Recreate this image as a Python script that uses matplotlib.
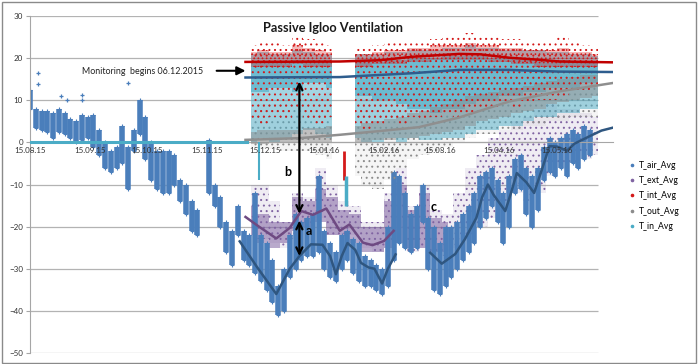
import numpy as np
import matplotlib.pyplot as plt
from matplotlib.lines import Line2D
from matplotlib.patches import Rectangle

plt.rcParams['font.family'] = ['Lato', 'DejaVu Sans']
plt.rcParams['hatch.linewidth'] = 0.7
nan = np.nan

# ---- T_air_Avg : range of the point cloud every 3 days (15.08.15 .. 01.06.16)
air_dates = np.arange('2015-08-15', '2016-06-02', 3, dtype='datetime64[D]')
air_lo = [8, 3.5, 3, 2.5, 1, 2.5, 2, 1, 0, 0.5,
          1, -1, -3, -6, -7, -6, -5, -11, -2, 2,
          -4, -9, -11, -12, -12, -10, -14, -17, -21, -22,
          nan, -12, -15, -20, -26, -29, -22, -28, -29, -31,
          -33, -35, -38, -41, -40, -32, -30, -28, -27, -27,
          -26, -30, -32, -33, -30, -28, -31, -33, -34, -34,
          -35, -36, -34, -28, -24, -25, -26, -25, -19, -30,
          -35, -36, -34, -32, -30, -28, -26, -24, -20, -18,
          -15, -19, -24, -20, -12, -11, -17, -20, -16, -9,
          -7, -8, -6, -8, -5, -6, -4, -3]
air_hi = [12.5, 8, 7.5, 7.5, 7, 8, 7, 5.5, 5, 6.5,
          6, 6.5, 3, 0, -2, -1, 4, -1, 3, 10,
          6, 0, -2, -2, -2, -3, -9, -10, -14, -16,
          nan, 0.5, -10, -13, -19, -21, -15, -21, -22, -12,
          -22, -24, -28, -34, -30, -22, -17, -19, -18, -17,
          -8, -21, -24, -26, -22, -21, -23, -24, -27, -28,
          -29, -30, -20, -7, -8, -12, -17, -15, -10, -18,
          -20, -24, -20, -20, -19, -17, -15, -12, -8, -7,
          -6, -9, -12, -8, -4, -3, -6, -8, -6, -1,
          1, 0, 1, 2, 3, 2, 4, 3]
air_out_dates = ['2015-08-19', '2015-08-19', '2015-08-31', '2015-09-03',
                 '2015-09-11', '2015-09-11', '2015-10-05']
air_out_vals = [16.4, 13.9, 10.9, 10.0, 11.3, 10.0, 14.2]

# ---- monitored series, every 6 days (08.12.15 .. 05.06.16)
mon_dates = np.arange('2015-12-08', '2016-06-06', 6, dtype='datetime64[D]')
int_lo = [5, 4, 6, 5, 8, 5, 4, 6, nan, 4, 3, 4, 5, 4, 6, 5, 6, 7, 6, 7,
          8, 8, 9, 8, 9, 10, 10, 11, 12, 12, 13]
int_hi = [23, 24, 23.5, 23, 25, 24.5, 24, 23, nan, 22.5, 22.5, 23, 23.5, 23.5, 24, 24,
          24.5, 25, 25, 26, 25, 25, 24.5, 24.5, 24, 24, 24, 25, 23.5, 23, 22.5]
int_core_lo = [18, 18, 18, 18, 18.5, 18, 18, 18, nan, 18, 18, 18.5, 18.5, 18.5, 19, 19,
               19.5, 19.5, 19.5, 19.5, 19.5, 19, 19, 18.5, 18.5, 18, 18, 18, 18, 18, 18]
int_core_hi = [21.5, 22, 21.5, 21.5, 23, 22.5, 22, 21.5, nan, 21, 21, 21.5, 22, 22, 22.5,
               22.5, 23, 23, 23, 23.5, 23, 23, 22.5, 22.5, 22, 22, 22, 22.5, 21.5, 21.5, 21]

in_lo = [0, 1, 0, 1, 2, 3, 2, 1, nan, 1, 0, 0, 1, 0, 1, 0.5, 0.5, 1, 1, 2,
         3, 3, 4, 4, 5, 6, 6, 7, 7, 8, 8]
in_hi = [21, 21.5, 21, 21, 22, 21.5, 21, 21, nan, 21, 21, 21, 21.5, 21.5, 22, 22,
         22, 22.5, 22.5, 23, 22.5, 22.5, 22, 22, 22, 22, 21.5, 21.5, 21, 21, 20.5]
in_core_lo = [12, 12, 13, 13, 12, 14, 14, 13, nan, 11, 11, 10, 10, 9, 8, 8, 7, 8, 8, 9,
              10, 10, 11, 11, 12, 12, 13, 13, 13, 14, 14]
in_core_hi = [19, 19, 19, 19, 19.5, 19.5, 19, 19, nan, 19, 19, 19, 19.5, 19.5, 20, 20,
              20, 20.5, 20.5, 20.5, 20.5, 20, 20, 20, 20, 19.5, 19.5, 19.5, 19, 19, 19]

out_lo = [-1, -1.5, -1.5, -2, -2, -2, -3, -4, nan, -8, -10, -11, -9, -6, -4, -3,
          -2, -1, 0, 1, 2, 2, 3, 3, 4, 4, 5, 5, 6, 6, 6]
out_hi = [8, 9, 9, 10, 10, 10, 11, 12, nan, 12, 13, 14, 14, 15, 15, 15, 16, 16, 16,
          16.5, 17, 17, 17, 17, 17.5, 17.5, 18, 18, 18, 18, 18]
out_core_lo = [-0.5, -0.5, 0, 0, 0, 0, 0, 0, nan, 0, 0, 0.5, 0.5, 1, 1, 1.5, 2, 2.5,
               3, 4, 5, 5.5, 6, 7, 7.5, 8, 9, 9.5, 10, 10.5, 11]
out_core_hi = [2.5, 3, 3, 3, 3, 3.5, 3.5, 4, nan, 4, 4.5, 5, 5.5, 6, 7, 7.5, 8.5, 9,
               10, 11, 11.5, 12, 12.5, 13, 13.5, 14, 14.5, 15, 15.5, 16, 16]

ext_lo = [-20, -23, -24, -25, -23, -20, -18, -22, -22, -22, -25, -26, -25, -20, -26,
          -25, -26, -27, -25, -22, -20, -18, -15, -12, -14, -12, -8, -6, -5, -4, -3]
ext_hi = [-10, -10, -14, -19, -12, -13, -6, -10, -14, -15, -19, -19, -12, -6, -15,
          -10, -16, -17, -12, -6, -3, 1, 3, 5, 6, 8, 9, 8, 8, 7, 6]
ext_core_lo = [-22, -24, -25, -24, -21, -20, -19, -22, -22, -24, -26, -26, -25, -24,
               -25, -25, -26, -26, nan, nan, nan, nan, nan, nan, nan, nan, nan, nan,
               nan, nan, nan]
ext_core_hi = [-15, -17, -19, -19, -13, -14, -11, -13, -16, -17, -20, -20, -14, -10,
               -16, -12, -18, -19, nan, nan, nan, nan, nan, nan, nan, nan, nan, nan,
               nan, nan, nan]

# readings in the data gap of late January
gap_dates = ['2016-01-25', '2016-01-26']
gap_int = [(-9, -2), None]
gap_in = [None, (-15, -8)]
spike_in_date = '2015-12-12'
spike_in = (-9, 0)
in_zero_dates = ['2015-08-15', '2015-12-06']
in_zero_vals = [0, 0]

# ---- moving-average trend lines
int_tr_dates = ['2015-12-05', '2016-01-23', '2016-02-13', '2016-02-29', '2016-03-25',
                '2016-04-05', '2016-04-20', '2016-05-06', '2016-05-16', '2016-06-13']
int_tr = [19.1, 19.2, 19.5, 20.3, 21.0, 20.9, 20.1, 19.6, 19.2, 19.0]
in_tr_dates = ['2015-12-05', '2016-01-23', '2016-02-29', '2016-03-25', '2016-04-20',
               '2016-05-16', '2016-06-13']
in_tr = [15.4, 15.5, 16.4, 17.2, 17.2, 16.8, 16.7]
out_tr_dates = ['2015-12-05', '2016-01-02', '2016-01-23', '2016-02-13', '2016-03-04',
                '2016-03-25', '2016-04-20', '2016-05-16', '2016-06-13']
out_tr = [0.6, 1.0, 1.8, 2.7, 3.6, 5.9, 9.7, 12.1, 14.1]
ext_tr_dates = ['2015-12-05', '2015-12-12', '2015-12-21', '2015-12-28', '2016-01-03',
                '2016-01-09', '2016-01-16', '2016-01-23', '2016-01-28', '2016-02-04',
                '2016-02-09', '2016-02-15', '2016-02-20']
ext_tr = [-17.7, -20.0, -22.8, -20.3, -16.3, -17.2, -15.7, -21.0, -19.5, -23.8,
          -24.4, -23.4, -21.0]
air_tr_dates = ['2015-12-02', '2015-12-11', '2015-12-21', '2015-12-28', '2016-01-02',
                '2016-01-08', '2016-01-14', '2016-01-18', '2016-01-21', '2016-01-24',
                '2016-01-27', '2016-01-31', '2016-02-03', '2016-02-07', '2016-02-10',
                '2016-02-14', '2016-02-17', '2016-02-21', '2016-02-22',
                '2016-03-10', '2016-03-16', '2016-03-23', '2016-03-28', '2016-04-03',
                '2016-04-06', '2016-04-09', '2016-04-12', '2016-04-18', '2016-04-21',
                '2016-04-24', '2016-04-29', '2016-05-03', '2016-05-07', '2016-05-11',
                '2016-05-15', '2016-05-20', '2016-05-24', '2016-06-01', '2016-06-07',
                '2016-06-13']
air_tr = [-23.5, -29.6, -36.0, -30.0, -27.0, -24.2, -24.3, -27.0, -31.3, -27.0,
          -23.9, -25.5, -28.6, -29.7, -30.0, -33.5, -30.0, -26.6, nan,
          -26.2, -28.8, -26.5, -23.0, -17.9, -13.0, -10.0, -12.5, -16.3, -12.0,
          -7.3, -9.5, -12.0, -6.5, -0.9, -1.0, -2.0, -0.3, 1.5, 2.8, 3.5]

labels = ['T_air_Avg', 'T_ext_Avg', 'T_int_Avg', 'T_out_Avg', 'T_in_Avg']
colors = ['#4A7EBB', '#8064A2', '#D41A1A', '#8C8C8C', '#4BACC6']
tick_dates = ['2015-08-15', '2015-09-15', '2015-10-15', '2015-11-15', '2015-12-15',
              '2016-01-15', '2016-02-15', '2016-03-15', '2016-04-15', '2016-05-15']

D = lambda s: np.array(s, dtype='datetime64[D]')
c_air, c_ext, c_int, c_out, c_in = colors

fig = plt.figure(figsize=(7, 3.64), dpi=100)
ax = fig.add_axes([30 / 700, 11 / 364, 583 / 700, 337 / 364])
ax.set_xlim(D('2015-08-15'), D('2016-06-13'))
ax.set_ylim(-50, 30)

# grid
ax.hlines(np.arange(-50, 31, 10), D('2015-08-15'), D('2016-06-05'),
          color='#B3B3B3', lw=0.9, zorder=0)


def band(dates, lo, hi, color, z, alpha):
    ax.fill_between(dates, lo, hi, step='mid', color=color, lw=0, alpha=alpha, zorder=z)


def dots(dates, lo, hi, color, hatch, z):
    ax.fill_between(dates, lo, hi, step='mid', facecolor='none', edgecolor=color,
                    hatch=hatch, lw=0, zorder=z)


# T_ext
band(mon_dates, ext_lo, ext_hi, c_ext, 1, 0.12)
dots(mon_dates, ext_lo, ext_hi, c_ext, '...', 1)
band(mon_dates, ext_core_lo, ext_core_hi, c_ext, 1, 0.55)
# T_air
ax.vlines(air_dates, air_lo, air_hi, color=c_air, lw=4.0, zorder=2)
ax.scatter(np.concatenate([air_dates, air_dates]), air_lo + air_hi, marker='+', s=12,
           lw=0.8, color=c_air, zorder=2)
ax.scatter(D(air_out_dates), air_out_vals, marker='+', s=10, lw=0.9, color=c_air, zorder=2)
# T_out / T_in / T_int
band(mon_dates, out_lo, out_hi, c_out, 3, 0.08)
dots(mon_dates, out_lo, out_hi, c_out, '...', 3)
band(mon_dates, in_lo, in_hi, c_in, 3.1, 0.5)
band(mon_dates, in_core_lo, in_core_hi, c_in, 3.2, 0.6)
band(mon_dates, out_core_lo, out_core_hi, c_out, 3.3, 0.5)
dots(mon_dates, int_lo, int_hi, c_int, '...', 5)
band(mon_dates, int_core_lo, int_core_hi, c_int, 5, 0.3)
dots(mon_dates, int_core_lo, int_core_hi, c_int, '....', 5)
ax.plot(D(in_zero_dates), in_zero_vals, color=c_in, lw=2.2, zorder=4)
for d, r in zip(gap_dates, gap_int):
    if r:
        ax.vlines(D(d), r[0], r[1], color=c_int, lw=2, zorder=5)
for d, r in zip(gap_dates, gap_in):
    if r:
        ax.vlines(D(d), r[0], r[1], color=c_in, lw=2.5, zorder=5)
ax.vlines(D(spike_in_date), spike_in[0], spike_in[1], color=c_in, lw=1.5, zorder=4)

# trend lines
ax.plot(D(int_tr_dates), int_tr, color='#C00000', lw=1.8, zorder=6)
ax.plot(D(in_tr_dates), in_tr, color='#2E5D8E', lw=1.8, zorder=6)
ax.plot(D(out_tr_dates), out_tr, color='#8F8F8F', lw=1.8, zorder=6)
ax.plot(D(ext_tr_dates), ext_tr, color='#6E4A82', lw=1.8, zorder=6)
ax.plot(D(air_tr_dates), air_tr, color='#2F5680', lw=1.8, zorder=6)

# axes styling
for s in ['top', 'right']:
    ax.spines[s].set_visible(False)
ax.spines['bottom'].set_position(('data', 0))
ax.spines['bottom'].set_color('#A6A6A6')
ax.spines['left'].set_color('#A6A6A6')
ax.set_yticks(np.arange(-50, 31, 10))
ax.set_xticks(D(tick_dates))
ax.set_xticklabels([d[8:10] + '.' + d[5:7] + '.' + d[2:4] for d in tick_dates])
ax.tick_params(axis='x', length=0, pad=3, labelsize=5.8, labelcolor='#333333')
ax.tick_params(axis='y', length=3, color='#A6A6A6', pad=2, labelsize=5.8,
               labelcolor='#333333')
ax.xaxis.set_zorder(7)

# annotations
x_ab = D('2016-01-02')
num = lambda ds, v: np.interp(D(x_ab).astype(float), D(ds).astype(float), v)
arr = dict(arrowstyle='<->,head_length=0.45,head_width=0.22', color='black', lw=1.6,
           shrinkA=0, shrinkB=0)
ax.annotate('', xy=(x_ab, num(in_tr_dates, in_tr) - 1), xytext=(x_ab, num(ext_tr_dates, ext_tr)),
            arrowprops=arr, zorder=8)
ax.annotate('', xy=(x_ab, num(ext_tr_dates, ext_tr) - 1.6),
            xytext=(x_ab, num(air_tr_dates[:18], air_tr[:18])), arrowprops=arr, zorder=8)
ax.text(D('2015-12-27'), -7, 'b', fontsize=9, fontweight='bold', ha='center', va='center',
        zorder=8)
ax.text(D('2016-01-07'), -21, 'a', fontsize=9, fontweight='bold', ha='center', va='center',
        zorder=8)
ax.text(D('2016-03-12'), -15.4, 'c', fontsize=9, fontweight='bold', ha='center',
        va='center', zorder=8)
ax.annotate('', xy=(D('2015-12-05'), 17), xytext=(D('2015-11-20'), 17),
            arrowprops=dict(arrowstyle='-|>,head_length=0.5,head_width=0.25', color='black',
                            lw=1.5, shrinkA=0, shrinkB=0), zorder=8)
fig.text(82 / 700, 1 - 71 / 364, 'Monitoring  begins 06.12.2015', fontsize=6.4,
         color='#222222', va='center', ha='left')
fig.text(333 / 700, 1 - 28 / 364, 'Passive Igloo Ventilation', fontsize=9.2,
         fontweight='bold', ha='center', va='center', color='#1a1a1a')

handles = [Line2D([], [], ls='', marker='o', ms=1.6, color=c) for c in colors]
ax.legend(handles, labels, loc='center left', bbox_to_anchor=(626 / 700, 1 - 196 / 364),
          bbox_transform=fig.transFigure, frameon=False, fontsize=6.2, handlelength=0.5,
          handletextpad=0.5, labelspacing=0.7, borderpad=0)

fig.add_artist(Rectangle((1.5 / 700, 1.5 / 364), 694 / 700, 360.5 / 364,
                         transform=fig.transFigure, fill=False, edgecolor='#8A8A8A', lw=1))

fig.savefig('out.png', dpi=100)
